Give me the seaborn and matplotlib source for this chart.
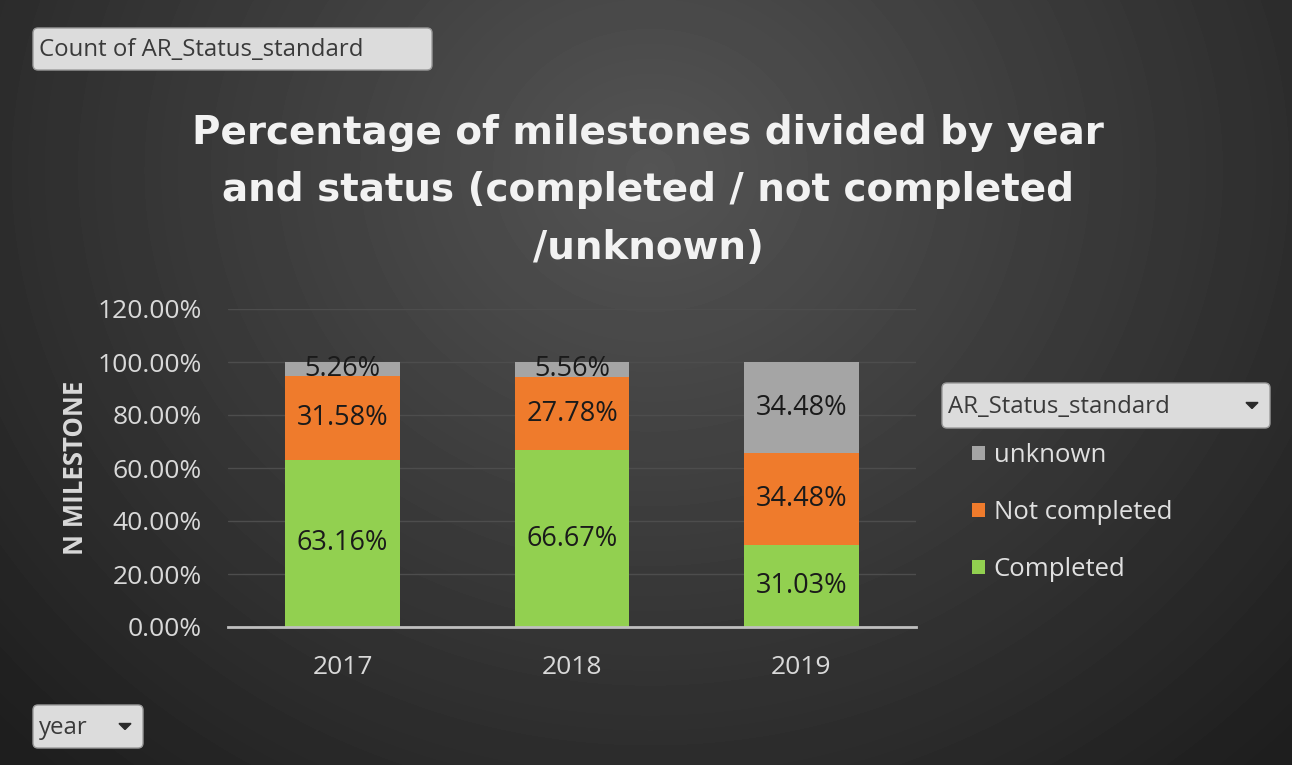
"""
Stacked percentage bars of milestones by year and status (Excel pivot-chart look).
"""
import numpy as np
import pandas as pd
import matplotlib
matplotlib.use("Agg")
import matplotlib.pyplot as plt
import seaborn as sns
from matplotlib.patches import FancyBboxPatch, Polygon
from matplotlib.ticker import FuncFormatter

# Data
years = ["2017", "2018", "2019"]
completed = [63.16, 66.67, 31.03]
not_completed = [31.58, 27.78, 34.48]
unknown = [5.26, 5.56, 34.48]
statuses = ["unknown", "Not completed", "Completed"]
colors = {"Completed": "#92D050", "Not completed": "#EF7B2C", "unknown": "#A5A5A5"}

W, H = 1292, 765

sns.set_theme(style="dark")
plt.rcParams["font.family"] = ["Open Sans", "DejaVu Sans"]

fig = plt.figure(figsize=(W / 100, H / 100), dpi=100)

# Background: radial dark-gray gradient, plus the pivot field buttons
bg = fig.add_axes([0, 0, 1, 1], zorder=-5)
yy, xx = np.mgrid[0:H, 0:W]
r = np.sqrt((xx - 650) ** 2 + ((yy - 170) / 0.9) ** 2)
shade = np.clip(0.33 - 0.20 * (r / 850), 0.12, 0.33)
bg.imshow(shade, cmap="gray", vmin=0, vmax=1, extent=[0, W, H, 0], aspect="auto")
bg.set_xlim(0, W)
bg.set_ylim(H, 0)
bg.axis("off")


def button(x0, y0, x1, y1, text, arrow=False):
    bg.add_patch(FancyBboxPatch((x0, y0), x1 - x0, y1 - y0,
                                boxstyle="round,pad=0,rounding_size=5",
                                facecolor="#dcdcdc", edgecolor="#9a9a9a", lw=1))
    bg.text(x0 + 6, (y0 + y1) / 2 + 1, text, color="#3a3a3a", fontsize=17.3,
            ha="left", va="center")
    if arrow:
        ax_ = x1 - 18
        ay = (y0 + y1) / 2
        bg.add_patch(Polygon([[ax_ - 6, ay - 3], [ax_ + 6, ay - 3], [ax_, ay + 3]],
                             closed=True, color="#2a2a2a"))


button(33, 28, 432, 70, "Count of AR_Status_standard")
button(942, 383, 1270, 428, "AR_Status_standard", arrow=True)
button(33, 705, 143, 748, "year", arrow=True)

# Title
fig.text(0.5015, 1 - 190 / H,
         "Percentage of milestones divided by year\nand status (completed / not completed\n/unknown)",
         ha="center", va="center", color="#f2f2f2", fontsize=28, fontweight="bold",
         family="DejaVu Sans", linespacing=1.65)

# Main axes
ax = fig.add_axes([228 / W, 1 - 627 / H, (916 - 228) / W, (627 - 309) / H])
ax.set_facecolor("none")

df = pd.DataFrame({"year": years, "Completed": completed,
                   "Not completed": not_completed, "unknown": unknown})
df["top_nc"] = df["Completed"] + df["Not completed"]
df["top_unk"] = df["top_nc"] + df["unknown"]

bar_kw = dict(width=0.5, saturation=1, ax=ax, linewidth=0, edgecolor="none")
sns.barplot(data=df, x="year", y="top_unk", color=colors["unknown"],
            label="unknown", zorder=2, **bar_kw)
sns.barplot(data=df, x="year", y="top_nc", color=colors["Not completed"],
            label="Not completed", zorder=3, **bar_kw)
sns.barplot(data=df, x="year", y="Completed", color=colors["Completed"],
            label="Completed", zorder=4, **bar_kw)

# Segment labels
for i in range(len(years)):
    segs = [(0, completed[i]),
            (completed[i], completed[i] + not_completed[i]),
            (completed[i] + not_completed[i], completed[i] + not_completed[i] + unknown[i])]
    vals = [completed[i], not_completed[i], unknown[i]]
    for (lo, hi), v in zip(segs, vals):
        ax.text(i, (lo + hi) / 2, f"{v:.2f}%", ha="center", va="center",
                color="#1a1a1a", fontsize=19.5, zorder=6)

ax.set_ylim(0, 120)
ax.set_xlim(-0.5, 2.5)
ax.set_yticks(np.arange(0, 121, 20))
ax.yaxis.set_major_formatter(FuncFormatter(lambda v, p: f"{v:.2f}%"))
ax.grid(axis="y", color="#4d4d4d", lw=1, zorder=0)
ax.grid(axis="x", visible=False)
ax.tick_params(axis="both", length=0, colors="#d9d9d9", labelsize=19)
ax.tick_params(axis="y", pad=19)
ax.tick_params(axis="x", pad=20)
for s in ["top", "right", "left"]:
    ax.spines[s].set_visible(False)
ax.spines["bottom"].set_color("#bfbfbf")
ax.spines["bottom"].set_linewidth(2)
ax.spines["bottom"].set_zorder(7)
ax.set_xlabel("")
ax.set_ylabel("N MILESTONE", color="#d9d9d9", fontsize=18.5, fontweight="bold",
              labelpad=6)

handles, labels = ax.get_legend_handles_labels()
order = [labels.index(s) for s in statuses]
leg = ax.legend([handles[k] for k in order], statuses, loc="upper left",
                bbox_to_anchor=(972 / W, 1 - 443 / H), bbox_transform=fig.transFigure,
                frameon=False, fontsize=18.5, labelcolor="#e0e0e0",
                handlelength=0.5, handleheight=0.5, handletextpad=0.35,
                labelspacing=1.25, borderaxespad=0, borderpad=0)

fig.savefig("out.png", dpi=100)
